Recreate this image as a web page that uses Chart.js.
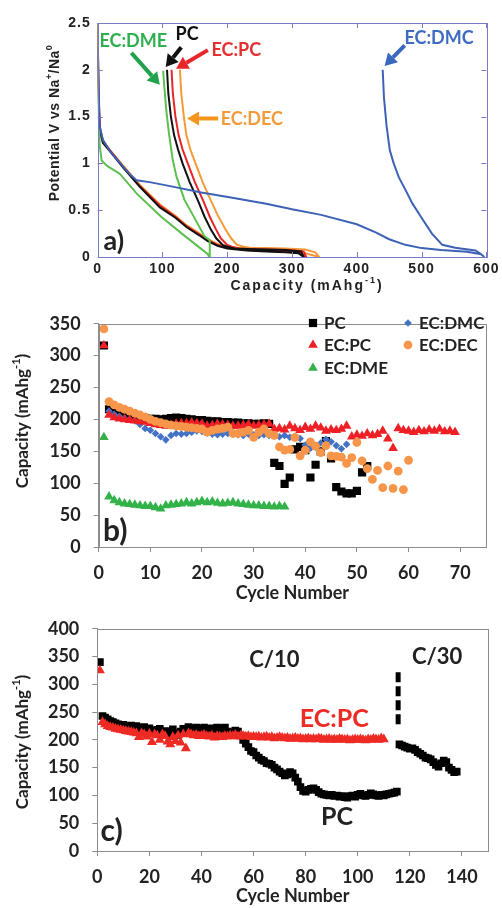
<!DOCTYPE html>
<html>
<head>
<meta charset="utf-8">
<script src="https://cdn.jsdelivr.net/npm/chart.js@4.4.0/dist/chart.umd.min.js"></script>
<style>
    html, body { margin: 0; padding: 0; background: #fff; }
    #wrap { position: relative; width: 502px; height: 908px; }
    .panel { position: absolute; left: 0; width: 502px; }
</style>
</head>
<body>
<div id="wrap">
    <div class="panel" style="top:0;height:300px"><canvas id="chartA"></canvas></div>
    <div class="panel" style="top:300px;height:305px"><canvas id="chartB"></canvas></div>
    <div class="panel" style="top:605px;height:303px"><canvas id="chartC"></canvas></div>
</div>
<script>
// ---- a) voltage profiles: capacity (mAh/g) and potential (V) ----
const aCapPC   = [0,1,3,8,20,40,65,96,120,137,155,170,185,200,230,260,290,310,318,314,290,260,230,211,200,193,183,175,165,155,142,131,124,118,113,109,107];
const aVoltPC  = [2.5,1.8,1.35,1.22,1.12,0.95,0.75,0.53,0.42,0.32,0.24,0.17,0.12,0.09,0.07,0.06,0.05,0.04,0.0,0.06,0.075,0.08,0.085,0.09,0.11,0.13,0.2,0.29,0.43,0.6,0.8,1.0,1.15,1.3,1.5,1.75,2.0];
const aCapECPC  = [0,1,3,8,20,40,65,96,120,137,155,170,185,200,230,260,290,310,322,318,295,265,235,218,207,200,190,183,173,163,150,139,131,125,120,116,114];
const aVoltECPC = [2.5,1.85,1.38,1.24,1.13,0.96,0.76,0.55,0.43,0.33,0.25,0.18,0.13,0.1,0.075,0.065,0.055,0.045,0.0,0.06,0.075,0.08,0.085,0.09,0.11,0.13,0.2,0.29,0.43,0.6,0.8,1.0,1.15,1.3,1.5,1.75,2.0];
const aCapDEC  = [0,1,3,8,20,40,65,96,120,137,155,170,185,200,230,260,290,315,342,336,320,290,260,235,225,215,206,197,185,175,162,151,143,137,133,129,127];
const aVoltDEC = [2.45,1.9,1.4,1.25,1.13,0.97,0.77,0.56,0.44,0.34,0.26,0.19,0.14,0.11,0.085,0.075,0.065,0.05,0.0,0.05,0.08,0.09,0.095,0.1,0.11,0.13,0.2,0.3,0.45,0.6,0.8,1.0,1.15,1.3,1.5,1.75,2.0];
const aCapDME  = [0,1,3,6,15,34,60,98,130,150,170,172,173,165,150,134,122,116,110,106,103,101];
const aVoltDME = [2.5,1.6,1.2,1.03,0.97,0.89,0.68,0.43,0.25,0.14,0.03,0.0,0.18,0.22,0.41,0.61,0.85,1.03,1.32,1.56,1.81,1.99];
const aCapDMC  = [0,1,3,8,20,35,50,60,80,110,160,210,260,300,345,400,430,450,475,500,530,570,592,597,590,583,552,532,516,500,486,475,465,457,451,446,442,440];
const aVoltDMC = [2.2,1.9,1.4,1.25,1.12,1.0,0.88,0.82,0.8,0.76,0.69,0.63,0.57,0.51,0.45,0.35,0.26,0.19,0.13,0.095,0.075,0.055,0.03,0.0,0.04,0.07,0.1,0.13,0.25,0.42,0.57,0.72,0.85,1.0,1.14,1.4,1.7,2.0];

// ---- b) cycling of each electrolyte (capacity per cycle, first cycle given) ----
const bCycleTicks = [0,10,20,30,40,50,60,70];
const bStartPC = 1;
const bPC   = [316, 216,211,207,205,204,203,202,202,201, 201,200,201,202,203,202,201,200,199,199, 198,197,197,196,196,195,195,194,194,193, 193,194,193, 132,127,99,109,153,157,152,109,129,150,166,139,94,87,84,84,88,117,127];
const bStartECPC = 1;
const bECPC = [316, 207,203,201,200,199,198,197,196,194, 192,191,190,191,193,194,194,195,194,193, 190,191,193,192,191,190,190,191,192,190, 191,192,193,185,186,184,190,186,183,188, 185,190,187,182,184,183,185,190,173,176, 174,178,175,177,182,170,155,186,183,182, 180,183,181,184,182,185,181,182,180];
const bStartDMC = 2;
const bDMC  = [213,208,205,202,200,198,192,186,183, 178,173,168,175,178,177,178,180,182,181, 179,177,176,177,178,177,176,175,177,176, 175,176,175,174,173,175,172,171,170,160, 155,157,163,169,165,159,154,161];
const bStartDEC = 1;
const bDEC  = [342, 228,223,219,216,213,210,207,204,200, 197,195,193,191,190,189,188,187,186,185, 180,183,185,186,188,178,178,180,183,172, 180,185,178,175,157,152,153,172,143,152, 165,158,148,159,143,142,141,131,140,164, 135,123,106,120,93,127,92,119,90,136];
const bStartDME = 1;
const bDME  = [172, 79,73,70,68,67,66,65,64,64, 62,60,65,66,67,68,70,68,70,72, 70,71,69,68,69,70,68,67,66,65, 65,64,64,63,64,63];

// ---- c) long cycling PC vs EC:PC ----
const cCycleTicks = [0,20,40,60,80,100,120,140];
const cStartPC10 = 1;
const cPC10 = [340, 243,240,237,234,232,230,228,226,227,
    225,224,226,223,225,222,220,223,218,221,
    217,215,218,220,214,216,210,215,219,212,
    209,215,220,218,223,221,219,222,220,218,
    222,220,217,221,219,222,218,220,222,215,
    212,214,217,215,208,200,193,187,180,178,
    172,168,164,162,158,157,155,150,147,143,
    140,136,138,142,140,132,125,115,108,107,
    110,112,113,110,106,103,102,101,100,101,
    99,100,98,99,97,96,99,100,98,101,
    103,100,99,101,104,102,100,99,101,100,
    102,103,104,105,107];
const cStartPC30 = 116;
const cPC30 = [192,190,188,186,184,185,182,178,175,172, 168,167,165,160,155,152,158,163,160,150, 146,142,143];
const cStartECPC = 1;
const cECPC = [325, 232,228,225,223,222,220,219,218,217,
    216,215,214,213,212,205,212,210,206,211,
    196,210,208,200,210,207,197,192,205,198,
    208,195,210,185,212,210,208,209,207,208,
    209,207,206,208,204,207,206,205,207,206,
    208,207,209,206,208,207,206,207,205,206,
    205,206,204,205,206,204,205,203,204,205,
    204,203,204,202,203,204,202,203,201,202,
    203,201,202,201,203,202,200,201,202,200,
    201,200,202,201,200,201,199,200,201,200,
    201,200,199,201,200,202,201,200,203,201];
const cRateChangeCycle = [115.5, 115.5];
const cRateChangeCap = [228, 325];

const zip = (xs, ys) => xs.map((x, i) => ({ x: x, y: ys[i] }));
const byCycle = (start, ys) => ys.map((y, i) => ({ x: start + i, y: y }));

const ink = "#222";
const lato = "Lato";
const arial = "'Liberation Sans', Arial";

/*
 * Rich text with superscripts, centred on (x, y) */
const drawRich = (ctx, parts, x, y, rot, size, family, color, spacing) => {
    ctx.save();
    ctx.translate(x, y);
    ctx.rotate(rot);
    ctx.letterSpacing = spacing || "0px";
    const big = "bold " + size + "px " + family;
    const small = "bold " + Math.round(size * 0.62) + "px " + family;
    let w = 0;
    parts.forEach((p) => { ctx.font = p.sup ? small : big; w += ctx.measureText(p.t).width; });
    let cx = -w / 2;
    ctx.textAlign = "left";
    ctx.textBaseline = "middle";
    ctx.fillStyle = color;
    parts.forEach((p) => {
        ctx.font = p.sup ? small : big;
        ctx.fillText(p.t, cx, p.sup ? -size * 0.4 : 0);
        cx += ctx.measureText(p.t).width;
    });
    ctx.restore();
};

const drawArrow = (ctx, x1, y1, x2, y2, color) => {
    const ang = Math.atan2(y2 - y1, x2 - x1);
    const head = 12, half = 7;
    const bx = x2 - head * Math.cos(ang), by = y2 - head * Math.sin(ang);
    ctx.save();
    ctx.strokeStyle = color;
    ctx.fillStyle = color;
    ctx.lineWidth = 4;
    ctx.beginPath();
    ctx.moveTo(x1, y1);
    ctx.lineTo(bx, by);
    ctx.stroke();
    ctx.beginPath();
    ctx.moveTo(x2, y2);
    ctx.lineTo(bx + half * Math.sin(ang), by - half * Math.cos(ang));
    ctx.lineTo(bx - half * Math.sin(ang), by + half * Math.cos(ang));
    ctx.closePath();
    ctx.fill();
    ctx.restore();
};

const drawMarker = (ctx, style, x, y, r, color) => {
    ctx.fillStyle = color;
    ctx.beginPath();
    if (style === "rect") {
        const s = r * Math.SQRT1_2;
        ctx.rect(x - s, y - s, 2 * s, 2 * s);
    } else if (style === "rectRot") {
        ctx.moveTo(x, y - r); ctx.lineTo(x + r, y); ctx.lineTo(x, y + r); ctx.lineTo(x - r, y);
    } else if (style === "triangle") {
        ctx.moveTo(x, y - r);
        ctx.lineTo(x + r * 0.866, y + r * 0.5);
        ctx.lineTo(x - r * 0.866, y + r * 0.5);
    } else {
        ctx.arc(x, y, r, 0, Math.PI * 2);
    }
    ctx.closePath();
    ctx.fill();
};

/*
 * Frame, inner ticks, notes, arrows, titles and legend */
const decoPlugin = {
    id: "deco",
    beforeDraw(chart, args, opts) {
        chart.ctx.letterSpacing = opts.spacing || "0px";
    },
    afterDatasetsDraw(chart, args, opts) {
        const ctx = chart.ctx;
        const { left, right, top, bottom } = chart.chartArea;
        const xs = chart.scales.x, ys = chart.scales.y;
        ctx.save();
        ctx.letterSpacing = "0px";
        ctx.strokeStyle = opts.boxColor;
        ctx.lineWidth = 1;
        ctx.strokeRect(Math.round(left) + 0.5, Math.round(top) + 0.5, Math.round(right - left), Math.round(bottom - top));
        if (opts.innerTicks) {
            ctx.beginPath();
            xs.ticks.forEach((t) => {
                const px = Math.round(xs.getPixelForValue(t.value)) + 0.5;
                ctx.moveTo(px, bottom); ctx.lineTo(px, bottom - 5);
                ctx.moveTo(px, top); ctx.lineTo(px, top + 5);
            });
            ys.ticks.forEach((t) => {
                const py = Math.round(ys.getPixelForValue(t.value)) + 0.5;
                ctx.moveTo(left, py); ctx.lineTo(left + 5, py);
                ctx.moveTo(right, py); ctx.lineTo(right - 5, py);
            });
            ctx.stroke();
        }
        (opts.arrows || []).forEach((a) => {
            drawArrow(ctx, xs.getPixelForValue(a.x1), ys.getPixelForValue(a.y1),
                xs.getPixelForValue(a.x2), ys.getPixelForValue(a.y2), a.color);
        });
        (opts.notes || []).forEach((n) => {
            ctx.font = "bold " + n.size + "px " + lato;
            ctx.fillStyle = n.color;
            ctx.textAlign = "center";
            ctx.textBaseline = "middle";
            ctx.fillText(n.text, xs.getPixelForValue(n.x), ys.getPixelForValue(n.y));
        });
        (opts.titles || []).forEach((t) => {
            drawRich(ctx, t.parts, t.x, t.y, t.rot, t.size, t.family, ink, t.spacing);
        });
        (opts.legend || []).forEach((l) => {
            drawMarker(ctx, l.style, l.x, l.y, l.r, l.color);
            ctx.font = "bold 17px " + lato;
            ctx.fillStyle = ink;
            ctx.textAlign = "left";
            ctx.textBaseline = "middle";
            ctx.fillText(l.text, l.x + 11, l.y + 1);
        });
        ctx.restore();
    },
};

const capTitle = [{ t: "Capacity (mAhg" }, { t: "-1", sup: true }, { t: ")" }];

const lineSet = (caps, volts, color) => ({
    data: zip(caps, volts),
    showLine: true,
    borderColor: color,
    borderWidth: 2,
    pointRadius: 0,
    fill: false,
    tension: 0,
});

/*
 * a) potential vs capacity */
new Chart(document.getElementById("chartA"), {
    type: "scatter",
    data: {
        datasets: [
            lineSet(aCapDMC, aVoltDMC, "#3d62b5"),
            lineSet(aCapDME, aVoltDME, "#5cc04e"),
            lineSet(aCapPC, aVoltPC, "#111111"),
            lineSet(aCapECPC, aVoltECPC, "#e8262a"),
            lineSet(aCapDEC, aVoltDEC, "#f59a38"),
        ],
    },
    options: {
        responsive: true,
        maintainAspectRatio: false,
        animation: false,
        layout: { padding: { top: 23, right: 15, left: 0, bottom: 0 } },
        plugins: {
            legend: { display: false },
            tooltip: { enabled: false },
            deco: {
                spacing: "1px",
                boxColor: "#7a7ac4",
                innerTicks: true,
                arrows: [
                    { x1: 52, y1: 2.18, x2: 96, y2: 1.84, color: "#22a24c" },
                    { x1: 129, y1: 2.24, x2: 105, y2: 2.03, color: "#111111" },
                    { x1: 170, y1: 2.21, x2: 121, y2: 2.01, color: "#e8262a" },
                    { x1: 186, y1: 1.48, x2: 138, y2: 1.48, color: "#f7941d" },
                    { x1: 474, y1: 2.26, x2: 443, y2: 2.04, color: "#3a67c0" },
                ],
                notes: [
                    { text: "EC:DME", x: 55, y: 2.31, size: 18, color: "#2fb050" },
                    { text: "PC", x: 138, y: 2.38, size: 18, color: "#111111" },
                    { text: "EC:PC", x: 214, y: 2.21, size: 18, color: "#e53030" },
                    { text: "EC:DEC", x: 238, y: 1.475, size: 18, color: "#f39a3c" },
                    { text: "EC:DMC", x: 527, y: 2.34, size: 18, color: "#3d6cc2" },
                    { text: "a)", x: 25, y: 0.17, size: 27, color: ink },
                ],
                titles: [
                    { parts: [{ t: "Potential V vs Na" }, { t: "+", sup: true }, { t: "/Na" }, { t: "0", sup: true }],
                        x: 55, y: 123, rot: -Math.PI / 2, size: 14, family: arial, spacing: "0.5px" },
                    { parts: capTitle, x: 307, y: 286, rot: 0, size: 14, family: arial, spacing: "2px" },
                ],
            },
        },
        scales: {
            x: {
                type: "linear", min: 0, max: 600,
                ticks: { stepSize: 100, color: ink, padding: 4, maxRotation: 0, font: { family: arial, size: 14, weight: "bold" } },
                grid: { display: false, drawTicks: false },
                border: { display: false },
                afterFit: (s) => { s.height = 43; },
            },
            y: {
                type: "linear", min: 0, max: 2.5,
                ticks: { stepSize: 0.5, color: ink, padding: 7, font: { family: arial, size: 14, weight: "bold" },
                    callback: (v) => String(v) },
                grid: { display: false, drawTicks: false },
                border: { display: false },
                afterFit: (s) => { s.width = 97.7; },
            },
        },
    },
    plugins: [decoPlugin],
});

const pointSet = (label, start, caps, style, radius, color) => ({
    label: label,
    data: byCycle(start, caps),
    pointStyle: style,
    pointRadius: radius,
    pointBackgroundColor: color,
    pointBorderWidth: 0,
    showLine: false,
});

const cycleScales = (xMax, xTicks, yMax, leftW, bottomH, titlePad) => ({
    x: {
        type: "linear", min: 0, max: xMax,
        afterBuildTicks: (s) => { s.ticks = xTicks.map((v) => ({ value: v })); },
        ticks: { color: ink, padding: 10, maxRotation: 0, autoSkip: false,
            font: { family: lato, size: 18, weight: "bold" } },
        grid: { display: true, drawOnChartArea: false, drawTicks: true, tickLength: 5, color: "#8c8c8c" },
        border: { display: true, color: "#8c8c8c" },
        title: { display: true, text: "Cycle Number", color: ink, padding: { top: 0, bottom: titlePad },
            font: { family: lato, size: 18, weight: "bold" } },
        afterFit: (s) => { s.height = bottomH; },
    },
    y: {
        type: "linear", min: 0, max: yMax,
        ticks: { stepSize: 50, color: ink, padding: 13, autoSkip: false, font: { family: lato, size: 18, weight: "bold" } },
        grid: { display: true, drawOnChartArea: false, drawTicks: true, tickLength: 5, color: "#8c8c8c" },
        border: { display: true, color: "#8c8c8c" },
        afterFit: (s) => { s.width = leftW; },
    },
});

/*
 * b) capacity vs cycle number for all electrolytes */
new Chart(document.getElementById("chartB"), {
    type: "scatter",
    data: {
        datasets: [
            pointSet("EC:DME", bStartDME, bDME, "triangle", 5.6, "#33b24a"),
            pointSet("EC:DEC", bStartDEC, bDEC, "circle", 4.4, "#f7964a"),
            pointSet("EC:PC", bStartECPC, bECPC, "triangle", 5.6, "#ee1f25"),
            pointSet("EC:DMC", bStartDMC, bDMC, "rectRot", 3.8, "#4472c4"),
            pointSet("PC", bStartPC, bPC, "rect", 5.8, "#000000"),
        ],
    },
    options: {
        responsive: true,
        maintainAspectRatio: false,
        animation: false,
        layout: { padding: { top: 7, right: 16, left: 0, bottom: 0 } },
        plugins: {
            legend: { display: false },
            tooltip: { enabled: false },
            deco: {
                boxColor: "#8c8c8c",
                notes: [{ text: "b)", x: 3.2, y: 25, size: 30, color: ink }],
                titles: [{ parts: capTitle, x: 23, y: 121, rot: -Math.PI / 2, size: 17, family: lato }],
                legend: [
                    { text: "PC", style: "rect", r: 5.8, color: "#000000", x: 313, y: 23 },
                    { text: "EC:DMC", style: "rectRot", r: 3.8, color: "#4472c4", x: 408, y: 23 },
                    { text: "EC:PC", style: "triangle", r: 5.6, color: "#ee1f25", x: 313, y: 45 },
                    { text: "EC:DEC", style: "circle", r: 4.4, color: "#f7964a", x: 408, y: 45 },
                    { text: "EC:DME", style: "triangle", r: 5.6, color: "#33b24a", x: 313, y: 68 },
                ],
            },
        },
        scales: cycleScales(75, bCycleTicks, 350, 98.7, 58, 1),
    },
    plugins: [decoPlugin],
});

/*
 * c) long-term cycling, C/10 then C/30 */
new Chart(document.getElementById("chartC"), {
    type: "scatter",
    data: {
        datasets: [
            pointSet("EC:PC", cStartECPC, cECPC, "triangle", 5.8, "#ee2a24"),
            pointSet("PC C/10", cStartPC10, cPC10, "rect", 5.4, "#000000"),
            pointSet("PC C/30", cStartPC30, cPC30, "rect", 5.4, "#000000"),
            {
                label: "rate change",
                data: zip(cRateChangeCycle, cRateChangeCap),
                showLine: true,
                borderColor: "#000000",
                borderWidth: 5,
                borderDash: [10, 4],
                pointRadius: 0,
            },
        ],
    },
    options: {
        responsive: true,
        maintainAspectRatio: false,
        animation: false,
        layout: { padding: { top: 4, right: 14, left: 0, bottom: 0 } },
        plugins: {
            legend: { display: false },
            tooltip: { enabled: false },
            deco: {
                boxColor: "#8c8c8c",
                notes: [
                    { text: "c)", x: 5.5, y: 35, size: 30, color: ink },
                    { text: "C/10", x: 68, y: 344, size: 22, color: ink },
                    { text: "C/30", x: 130.5, y: 349, size: 22, color: ink },
                    { text: "EC:PC", x: 91, y: 238, size: 25, color: "#ee2a24" },
                    { text: "PC", x: 92, y: 62, size: 25, color: ink },
                ],
                titles: [{ parts: capTitle, x: 23, y: 137, rot: -Math.PI / 2, size: 17, family: lato }],
            },
        },
        scales: cycleScales(150, cCycleTicks, 400, 97.3, 57, 1),
    },
    plugins: [decoPlugin],
});
</script>
</body>
</html>
